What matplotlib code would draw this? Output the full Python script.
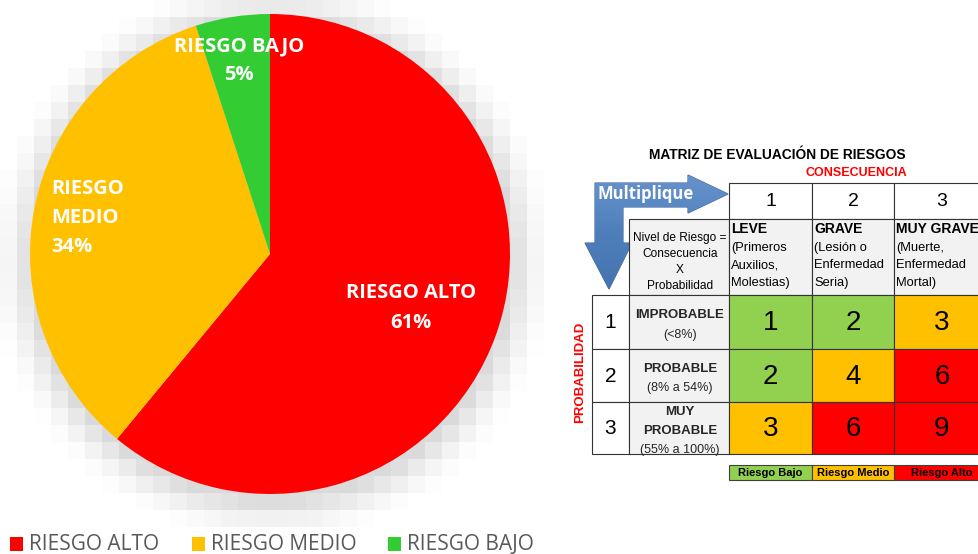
import matplotlib
matplotlib.use('Agg')
import matplotlib.pyplot as plt
import numpy as np
from matplotlib.patches import Rectangle, Polygon

# datos del grafico de torta
categorias = ['RIESGO ALTO', 'RIESGO MEDIO', 'RIESGO BAJO']
porcentajes = [61, 34, 5]
colores = ['#ff0000', '#ffc000', '#33cc33']

# datos de la matriz
consecuencias = ['1', '2', '3']
cons_titulos = ['LEVE', 'GRAVE', 'MUY GRAVE']
cons_detalle = [['(Primeros', 'Auxilios,', 'Molestias)'],
                ['(Lesión o', 'Enfermedad', 'Seria)'],
                ['(Muerte,', 'Enfermedad', 'Mortal)']]
probabilidades = ['1', '2', '3']
prob_titulos = [['IMPROBABLE'], ['PROBABLE'], ['MUY', 'PROBABLE']]
prob_detalle = ['(<8%)', '(8% a 54%)', '(55% a 100%)']
matriz = [[1, 2, 3],
          [2, 4, 6],
          [3, 6, 9]]
niveles = ['Riesgo Bajo', 'Riesgo Medio', 'Riesgo Alto']
colores_nivel = ['#92d050', '#ffc000', '#ff0000']


def color_riesgo(v):
    if v <= 2:
        return colores_nivel[0]
    if v <= 4:
        return colores_nivel[1]
    return colores_nivel[2]


W, H = 979, 554
fig = plt.figure(figsize=(W / 100, H / 100), dpi=100)

# capa de fondo para la sombra (coordenadas en pixeles)
bg = fig.add_axes([0, 0, 1, 1], zorder=0)
bg.axis('off')

cx, cy, r = 270, 254, 240
# sombra pixelada alrededor de la torta
paso = 17
gx = np.arange(0, 578, paso)
gy = np.arange(0, 561, paso)
GX, GY = np.meshgrid(gx + paso / 2, gy + paso / 2)
d = np.hypot(GX - (cx + 2), GY - (cy + 6))
osc = 0.145 * np.clip((r + 46 - d) / 46, 0, 1) ** 1.8
bg.imshow(1 - osc, cmap='gray', vmin=0, vmax=1, interpolation='nearest',
          extent=(0, gx[-1] + paso, gy[-1] + paso, 0), aspect='auto')
bg.set_xlim(0, W)
bg.set_ylim(H, 0)

# torta
ax = fig.add_axes([(cx - r) / W, (H - cy - r) / H, 2 * r / W, 2 * r / H], zorder=1)
ax.pie(porcentajes, colors=colores, startangle=90, counterclock=False,
       radius=1, wedgeprops=dict(linewidth=0))
ax.set_xlim(-1, 1)
ax.set_ylim(-1, 1)
ax.axis('off')

# capa superior con la matriz y los textos
ov = fig.add_axes([0, 0, 1, 1], zorder=2)
ov.axis('off')
ov.patch.set_alpha(0)

lbl = dict(color='white', fontweight='bold', fontsize=14.5, family='Open Sans',
           linespacing=1.6)
ov.text(411, 308, 'RIESGO ALTO\n61%', ha='center', va='center', **lbl)
ov.text(51, 218, 'RIESGO\nMEDIO\n34%', ha='left', va='center', **lbl)
ov.text(239, 61, 'RIESGO BAJO\n5%', ha='center', va='center', **lbl)

# leyenda de la torta
leg_x = [10, 192, 388]
for x, c, t in zip(leg_x, colores, categorias):
    ov.add_patch(Rectangle((x, 537), 13, 14, color=c, lw=0))
    ov.text(x + 19, 544, t, ha='left', va='center', fontsize=15,
            family='Open Sans', color='#595959')

# flecha "Multiplique"
pts = [(595, 183), (688, 183), (688, 175), (728, 194), (688, 213), (688, 207),
       (623, 207), (623, 243), (632, 243), (609, 289), (585, 243), (595, 243)]
arrow = Polygon(pts, closed=True, facecolor='none', edgecolor='#3a629a', lw=0.8)
ov.add_patch(arrow)
grad = np.linspace(0, 1, 128).reshape(-1, 1)
cmap = matplotlib.colors.LinearSegmentedColormap.from_list('g', ['#6793cc', '#4f7fbb', '#4574b0'])
im = ov.imshow(grad, extent=(580, 730, 289, 175), cmap=cmap, aspect='auto', zorder=1)
im.set_clip_path(arrow)
ov.set_xlim(0, W)
ov.set_ylim(H, 0)
ov.text(646, 194, 'Multiplique', ha='center', va='center', color='white',
        fontweight='bold', fontsize=12, family='Open Sans', zorder=3)

# titulo de la matriz
arial = 'Liberation Sans'
ov.text(777, 155, 'MATRIZ DE EVALUACIÓN DE RIESGOS', ha='center', va='center',
        fontsize=9.9, fontweight='bold', family=arial)
ov.text(856, 173, 'CONSECUENCIA', ha='center', va='center', fontsize=9,
        fontweight='bold', family=arial, color='#ff0000')
ov.text(580, 372, 'PROBABILIDAD', ha='center', va='center', rotation=90,
        fontsize=9.5, fontweight='bold', family=arial, color='#ff0000')

xs = [592, 629, 729, 812, 894, 990]
ys = [183, 219, 295, 349, 402, 454]
edge = '#333333'

# encabezado de numeros
for j, t in enumerate(consecuencias):
    ov.add_patch(Rectangle((xs[j + 2], ys[0]), xs[j + 3] - xs[j + 2], ys[1] - ys[0],
                           facecolor='white', edgecolor=edge, lw=0.8, zorder=2))
    ov.text((xs[j + 2] + xs[j + 3]) / 2, (ys[0] + ys[1]) / 2 + 1, t, ha='center',
            va='center', fontsize=14, family=arial, zorder=3)

# encabezado de consecuencias
ov.add_patch(Rectangle((xs[1], ys[1]), xs[2] - xs[1], ys[2] - ys[1],
                       facecolor='#f2f2f2', edgecolor=edge, lw=0.8, zorder=2))
for k, t in enumerate(['Nivel de Riesgo =', 'Consecuencia', 'X', 'Probabilidad']):
    ov.text((xs[1] + xs[2]) / 2 + 1, 238.5 + k * 15.7, t, ha='center', va='center',
            fontsize=8.6, family=arial, zorder=3)
for j in range(3):
    ov.add_patch(Rectangle((xs[j + 2], ys[1]), xs[j + 3] - xs[j + 2], ys[2] - ys[1],
                           facecolor='#f2f2f2', edgecolor=edge, lw=0.8, zorder=2))
    ov.text(xs[j + 2] + 2, 229, cons_titulos[j], ha='left', va='center',
            fontsize=10, fontweight='bold', family=arial, zorder=3)
    for k, t in enumerate(cons_detalle[j]):
        ov.text(xs[j + 2] + 2, 247.5 + k * 17.7, t, ha='left', va='center',
                fontsize=9.3, family=arial, zorder=3)

# cuerpo de la matriz
for i in range(3):
    y0, y1 = ys[i + 2], ys[i + 3]
    ym = (y0 + y1) / 2
    ov.add_patch(Rectangle((xs[0], y0), xs[1] - xs[0], y1 - y0, facecolor='white',
                           edgecolor=edge, lw=0.8, zorder=2))
    ov.text((xs[0] + xs[1]) / 2, ym + 1, probabilidades[i], ha='center', va='center',
            fontsize=15, family=arial, zorder=3)
    ov.add_patch(Rectangle((xs[1], y0), xs[2] - xs[1], y1 - y0, facecolor='#f2f2f2',
                           edgecolor=edge, lw=0.8, zorder=2))
    lineas = prob_titulos[i]
    n = len(lineas) + 1
    top = ym - (n - 1) * 18.5 / 2 + 2.5
    for k, t in enumerate(lineas):
        ov.text((xs[1] + xs[2]) / 2 + 1, top + k * 18.5, t, ha='center', va='center',
                fontsize=9.5, fontweight='bold', family=arial, color='#262626', zorder=3)
    ov.text((xs[1] + xs[2]) / 2 + 1, top + (n - 1) * 18.5 + 1, prob_detalle[i],
            ha='center', va='center', fontsize=9, family=arial, color='#262626', zorder=3)
    for j in range(3):
        v = matriz[i][j]
        ov.add_patch(Rectangle((xs[j + 2], y0), xs[j + 3] - xs[j + 2], y1 - y0,
                               facecolor=color_riesgo(v), edgecolor=edge, lw=0.8, zorder=2))
        ov.text((xs[j + 2] + xs[j + 3]) / 2, ym + 1, str(v), ha='center', va='center',
                fontsize=20, family=arial, zorder=3)

# leyenda de niveles
for j, (t, c) in enumerate(zip(niveles, colores_nivel)):
    ov.add_patch(Rectangle((xs[j + 2], 465), xs[j + 3] - xs[j + 2], 15, facecolor=c,
                           edgecolor='#404040', lw=0.8, zorder=2))
    ov.text((xs[j + 2] + xs[j + 3]) / 2, 473, t, ha='center', va='center',
            fontsize=8, fontweight='bold', family=arial, zorder=3)

fig.savefig('out.png', dpi=100)
